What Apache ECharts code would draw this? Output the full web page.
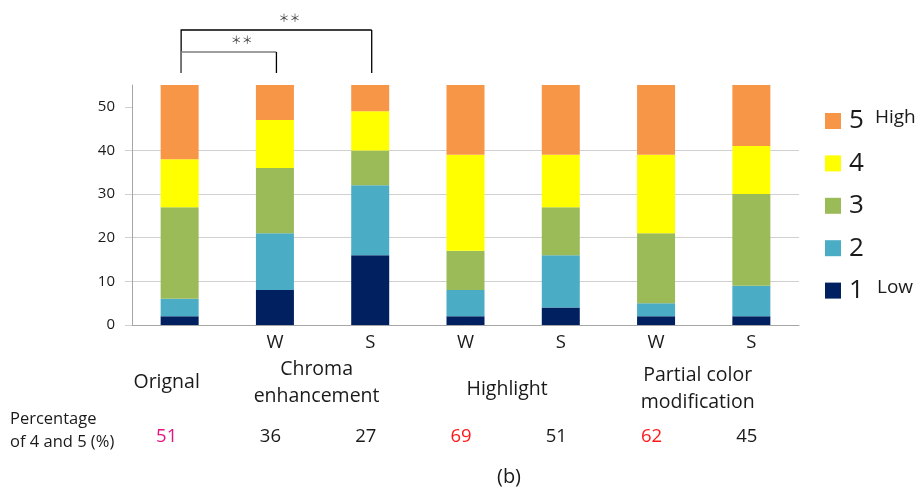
<!DOCTYPE html>
<html>
<head>
<meta charset="utf-8">
<script src="https://cdn.jsdelivr.net/npm/echarts@6/dist/echarts.min.js"></script>
<style>
  html, body { margin: 0; padding: 0; background: #ffffff; }
  #chart { width: 920px; height: 491px; }
</style>
</head>
<body>
<div id="chart"></div>
<script>
// Rating counts per condition (stacked from score 1 at the bottom to score 5 on top)
const categories = ['Orignal', 'Chroma W', 'Chroma S', 'Highlight W', 'Highlight S', 'Partial W', 'Partial S'];
const axisLabels = ['', 'W', 'S', 'W', 'S', 'W', 'S'];
const score1 = [2, 8, 16, 2, 4, 2, 2];
const score2 = [4, 13, 16, 6, 12, 3, 7];
const score3 = [21, 15, 8, 9, 11, 16, 21];
const score4 = [11, 11, 9, 22, 12, 18, 11];
const score5 = [17, 8, 6, 16, 16, 16, 14];
const scoreNames = ['1', '2', '3', '4', '5'];
const scoreColors = ['#002060', '#4BACC6', '#9BBB59', '#FFFF00', '#F79646'];

// Share of ratings 4 and 5 (%) printed under each bar
const highShare = [51, 36, 27, 69, 51, 62, 45];
const highShareColors = ['#E5147F', '#1a1a1a', '#1a1a1a', '#FF1A1A', '#1a1a1a', '#FF1A1A', '#1a1a1a'];

// Method group captions spanning their W / S bars
const groupLabels = ['Orignal', 'Chroma\nenhancement', 'Highlight', 'Partial color\nmodification'];
const groupFirst = [0, 1, 3, 5];
const groupLast = [0, 2, 4, 6];

// Significance brackets between bars
const bracketFrom = [0, 0];
const bracketTo = [2, 1];
const bracketText = ['＊＊', '＊＊'];

const yTicks = [0, 10, 20, 30, 40, 50];
const yMax = 55;

const FONT = '"Open Sans", "Noto Sans", sans-serif';
const TEXT = '#1a1a1a';

const chart = echarts.init(document.getElementById('chart'), null, { renderer: 'canvas' });

const seriesData = [score1, score2, score3, score4, score5];
const series = seriesData.map((vals, i) => ({
  name: scoreNames[i],
  type: 'bar',
  stack: 'rating',
  barWidth: 38,
  data: vals,
  itemStyle: { color: scoreColors[i] },
  emphasis: { disabled: true }
}));

chart.setOption({
  animation: false,
  backgroundColor: '#ffffff',
  grid: { left: 132, right: 121, top: 85, bottom: 166 },
  xAxis: {
    type: 'category',
    data: categories,
    axisLine: { show: true, lineStyle: { color: '#A6A6A6', width: 1 } },
    axisTick: { show: false },
    axisLabel: {
      margin: 8,
      fontFamily: FONT,
      fontSize: 18.5,
      color: TEXT,
      formatter: (v, idx) => axisLabels[idx]
    },
    splitLine: { show: false }
  },
  yAxis: {
    type: 'value',
    min: 0,
    max: yMax,
    interval: 10,
    axisLine: { show: true, lineStyle: { color: '#A6A6A6', width: 1 } },
    axisTick: {
      show: true,
      inside: false,
      length: 7,
      customValues: yTicks,
      lineStyle: { color: '#D0D0D0', width: 1 }
    },
    axisLabel: {
      margin: 17,
      fontFamily: FONT,
      fontSize: 15,
      color: TEXT,
      customValues: yTicks
    },
    splitLine: {
      show: true,
      showMaxLine: false,
      lineStyle: { color: '#D0D0D0', width: 1 }
    }
  },
  legend: {
    data: scoreNames.slice().reverse(),
    orient: 'vertical',
    left: 820,
    top: 103,
    icon: 'rect',
    itemWidth: 16,
    itemHeight: 16,
    itemGap: 16.4,
    selectedMode: false,
    textStyle: {
      fontFamily: FONT,
      fontSize: 26,
      lineHeight: 26,
      color: TEXT,
      padding: [0, 0, 0, 3]
    }
  },
  series: series
});

// Annotations placed from the axis scales
function drawAnnotations() {
  const xOf = (i) => chart.convertToPixel({ xAxisIndex: 0 }, i);
  const yOf = (v) => chart.convertToPixel({ yAxisIndex: 0 }, v);
  const top = yOf(yMax);
  const base = yOf(0);
  const elements = [];

  // Significance brackets
  const legBottom = top - 12;
  const bracketTops = [top - 55, top - 33];
  const bracketColors = ['#000000', '#7F7F7F'];
  bracketFrom.forEach((from, k) => {
    const x1 = xOf(from) + 1.5;
    const x2 = xOf(bracketTo[k]) + 1.5;
    const yT = bracketTops[k];
    elements.push({
      type: 'polyline',
      silent: true,
      shape: { points: [[x1, legBottom], [x1, yT], [x2, yT]] },
      style: { stroke: bracketColors[k], lineWidth: 1.3, fill: null }
    });
    elements.push({
      type: 'line',
      silent: true,
      shape: { x1: x2, y1: yT, x2: x2, y2: legBottom },
      style: { stroke: '#000000', lineWidth: 1.3 }
    });
    elements.push({
      type: 'text',
      silent: true,
      x: (x1 + x2) / 2 + 13,
      y: yT - 12,
      style: {
        text: bracketText[k],
        fontFamily: '"Noto Sans CJK JP", sans-serif',
        fontSize: 11,
        fill: '#404040',
        align: 'center',
        verticalAlign: 'middle'
      }
    });
  });

  // Method group captions
  const groupY = [base + 57, base + 57.5, base + 64, base + 64];
  groupLabels.forEach((label, g) => {
    const cx = (xOf(groupFirst[g]) + xOf(groupLast[g])) / 2;
    const offset = groupFirst[g] === groupLast[g] ? -13 : -6;
    elements.push({
      type: 'text',
      silent: true,
      x: cx + offset,
      y: groupY[g],
      style: {
        text: label,
        fontFamily: FONT,
        fontSize: 19.5,
        lineHeight: 27,
        fill: TEXT,
        align: 'center',
        verticalAlign: 'middle'
      }
    });
  });

  // Share of ratings 4 and 5
  highShare.forEach((v, i) => {
    elements.push({
      type: 'text',
      silent: true,
      x: xOf(i) - (i === 0 ? 13 : 4.5),
      y: base + 112,
      style: {
        text: String(v),
        fontFamily: FONT,
        fontSize: 18.5,
        fill: highShareColors[i],
        align: 'center',
        verticalAlign: 'middle'
      }
    });
  });

  elements.push({
    type: 'text',
    silent: true,
    x: 10,
    y: base + 106,
    style: {
      text: 'Percentage\nof 4 and 5 (%)',
      fontFamily: FONT,
      fontSize: 16.5,
      lineHeight: 23,
      fill: TEXT,
      align: 'left',
      verticalAlign: 'middle'
    }
  });

  // Legend end captions
  elements.push({
    type: 'text', silent: true, x: 875, y: 118,
    style: { text: 'High', fontFamily: FONT, fontSize: 19, fill: TEXT, align: 'left', verticalAlign: 'middle' }
  });
  elements.push({
    type: 'text', silent: true, x: 877, y: 288,
    style: { text: 'Low', fontFamily: FONT, fontSize: 19, fill: TEXT, align: 'left', verticalAlign: 'middle' }
  });

  // Panel caption
  elements.push({
    type: 'text', silent: true, x: 509, y: 477,
    style: { text: '(b)', fontFamily: FONT, fontSize: 20, fill: TEXT, align: 'center', verticalAlign: 'middle' }
  });

  chart.setOption({ graphic: { elements: elements } });
}

drawAnnotations();
</script>
</body>
</html>
